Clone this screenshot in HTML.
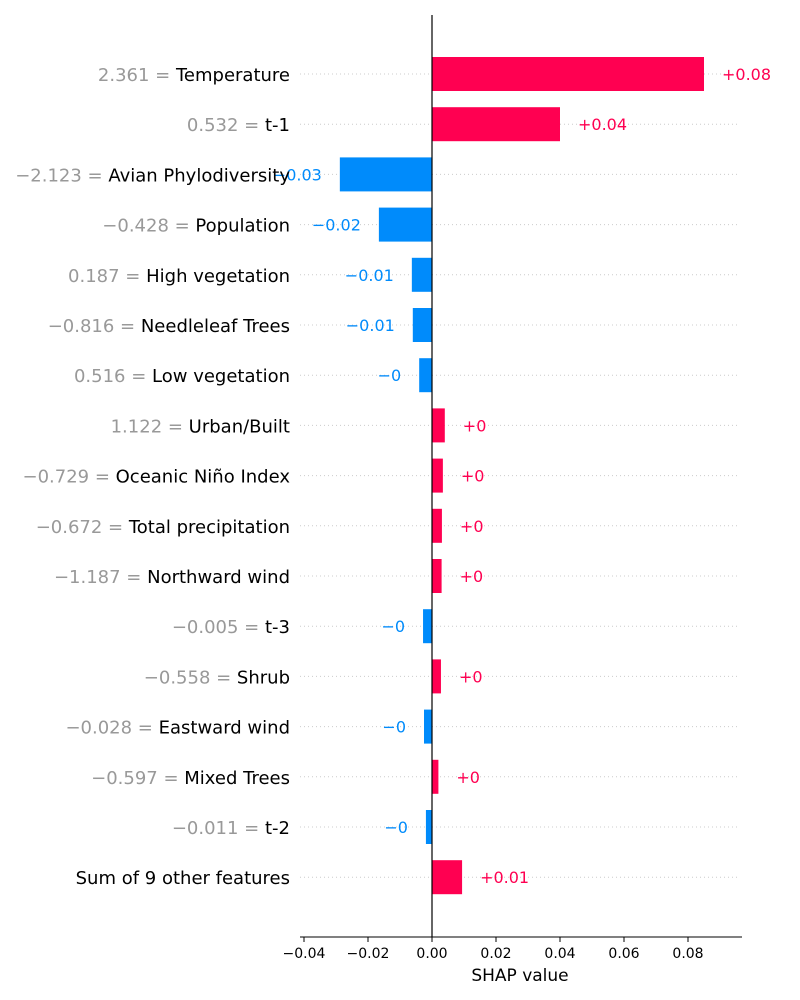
<!DOCTYPE html>
<html><head><meta charset="utf-8"><style>
body{margin:0;background:#fff;}
svg{display:block;font-family:"DejaVu Sans","Liberation Sans",sans-serif;}
</style></head><body>
<svg id="chart" width="800" height="1000" xmlns="http://www.w3.org/2000/svg"></svg>
<script>
const featureValues = ["2.361","0.532","\u22122.123","\u22120.428","0.187","\u22120.816","0.516","1.122","\u22120.729","\u22120.672","\u22121.187","\u22120.005","\u22120.558","\u22120.028","\u22120.597","\u22120.011",""];
const featureNames = ["Temperature","t-1","Avian Phylodiversity","Population","High vegetation","Needleleaf Trees","Low vegetation","Urban/Built","Oceanic Ni\u00f1o Index","Total precipitation","Northward wind","t-3","Shrub","Eastward wind","Mixed Trees","t-2","Sum of 9 other features"];
const shapValues = [0.085,0.040,-0.0288,-0.0166,-0.0063,-0.0060,-0.0040,0.0040,0.0034,0.0031,0.0030,-0.0028,0.0028,-0.0025,0.0020,-0.0019,0.0094];
const valueLabels = ["+0.08","+0.04","\u22120.03","\u22120.02","\u22120.01","\u22120.01","\u22120","+0","+0","+0","+0","\u22120","+0","\u22120","+0","\u22120","+0.01"];
const tickValues = [-0.04,-0.02,0,0.02,0.04,0.06,0.08];
const tickLabels = ["\u22120.04","\u22120.02","0.00","0.02","0.04","0.06","0.08"];

const svg = document.getElementById('chart');
const NS = "http://www.w3.org/2000/svg";
const x = v => 432 + v * 3200;
const y = i => 74 + i * 50.2;
function mk(tag, attrs, parent){const e=document.createElementNS(NS,tag);for(const k in attrs)e.setAttribute(k,attrs[k]);(parent||svg).appendChild(e);return e;}

featureNames.forEach((n,i)=>{
  const g = mk('line',{x1:300,x2:740,y1:y(i),y2:y(i),stroke:'#ccc','stroke-dasharray':'1,3','stroke-width':1});
  
  
});

featureNames.forEach((n,i)=>{
  const v = shapValues[i];
  const pos = v >= 0;
  const col = pos ? '#ff0051' : '#008bfb';
  const r = mk('rect',{x:Math.min(x(0),x(v)),y:y(i)-17,width:Math.abs(x(v)-x(0)),height:34,fill:col});
  
  
  const t = mk('text',{x: pos ? x(v)+18 : x(v)-18, y:y(i)+6,'text-anchor': pos?'start':'end','font-size':16,fill:col});
  t.textContent = valueLabels[i];
  
  
  const l = mk('text',{x:290,y:y(i)+7,'text-anchor':'end','font-size':18});
  
  
  if(featureValues[i]){
    const a = mk('tspan',{fill:'#999'},l); a.textContent = featureValues[i]+' = ';
  }
  const b = mk('tspan',{fill:'#000'},l); b.textContent = n;
});

const zl = mk('line',{x1:432,x2:432,y1:15,y2:937,stroke:'#000','stroke-width':1.2});


const ax = mk('line',{x1:300,x2:742,y1:937,y2:937,stroke:'#000','stroke-width':1});


tickValues.forEach((tv,i)=>{
  const tk = mk('line',{x1:x(tv),x2:x(tv),y1:937,y2:942,stroke:'#000'});
  
  
  const tl = mk('text',{x:x(tv),y:958,'text-anchor':'middle','font-size':14,fill:'#000'});
  tl.textContent = tickLabels[i];
  
  
});
const xt = mk('text',{x:520,y:981,'text-anchor':'middle','font-size':17,fill:'#000'});
xt.textContent = 'SHAP value';


</script>
</body></html>
